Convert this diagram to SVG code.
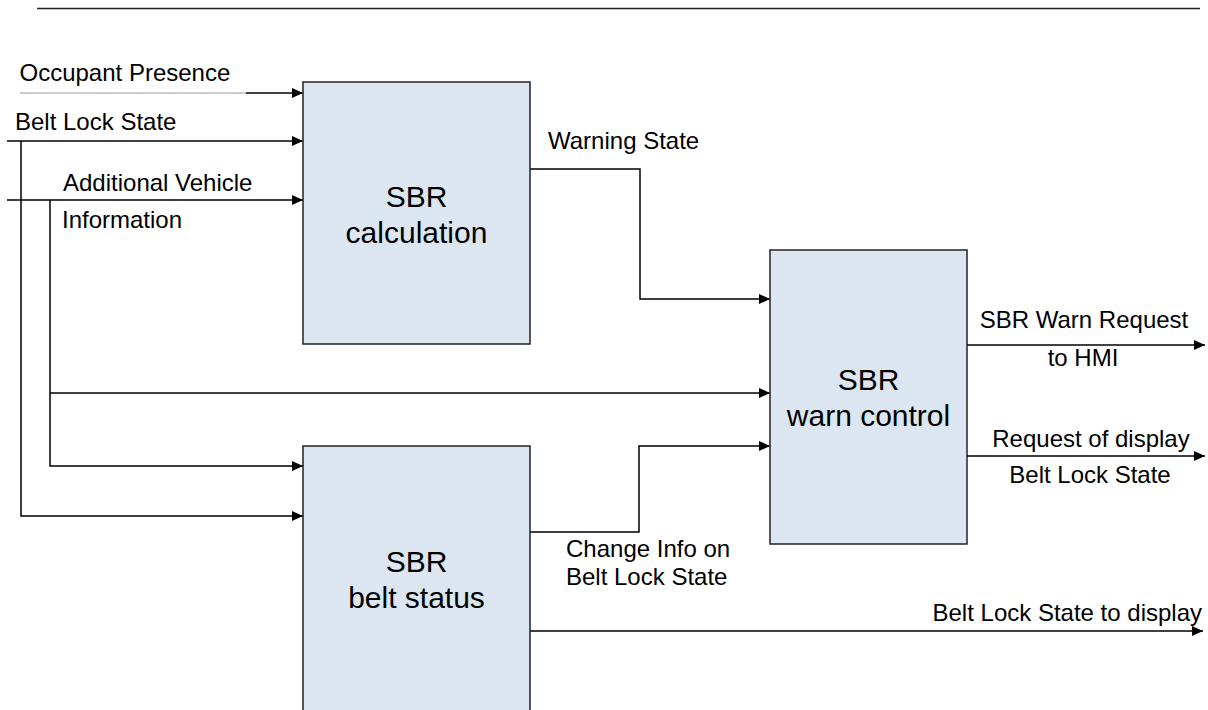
<svg xmlns="http://www.w3.org/2000/svg" width="1208" height="710" viewBox="0 0 1208 710">
<style>
.bg{fill:#ffffff}
.box{fill:#dce6f1;stroke:#222;stroke-width:1.5}
.ln{fill:none;stroke:#000;stroke-width:1.5}
.gr{fill:none;stroke:#999;stroke-width:1.2}
.t{font-family:"Liberation Sans",Arial,sans-serif;font-size:24px;fill:#000}
.big{font-family:"Liberation Sans",Arial,sans-serif;font-size:30px;fill:#000;text-anchor:middle}
</style>
<defs>
<marker id="arr" markerWidth="12" markerHeight="10" refX="11" refY="5" orient="auto" markerUnits="userSpaceOnUse">
<path d="M0,0 L11,5 L0,10 Z" fill="#000"/>
</marker>
</defs>
<rect class="bg" x="0" y="0" width="1208" height="710"/>
<line x1="37" y1="8.5" x2="1200" y2="8.5" stroke="#222" stroke-width="1.5"/>

<g id="connectors">
<line class="gr" x1="20" y1="93" x2="246" y2="93"/>
<line class="ln" x1="246" y1="93" x2="303" y2="93" marker-end="url(#arr)"/>
<line class="ln" x1="7" y1="141" x2="303" y2="141" marker-end="url(#arr)"/>
<line class="ln" x1="7" y1="200" x2="303" y2="200" marker-end="url(#arr)"/>
<polyline class="ln" points="21,141 21,516 303,516" marker-end="url(#arr)"/>
<polyline class="ln" points="50,200 50,466 303,466" marker-end="url(#arr)"/>
<line class="ln" x1="50" y1="393" x2="770" y2="393" marker-end="url(#arr)"/>
<polyline class="ln" points="530,169 640,169 640,299 770,299" marker-end="url(#arr)"/>
<polyline class="ln" points="530,532 639,532 639,446 770,446" marker-end="url(#arr)"/>
<line class="ln" x1="967" y1="345" x2="1205" y2="345" marker-end="url(#arr)"/>
<line class="ln" x1="967" y1="456" x2="1205" y2="456" marker-end="url(#arr)"/>
<line class="ln" x1="530" y1="631" x2="1203" y2="631" marker-end="url(#arr)"/>
</g>

<g id="labels">
<text class="t" x="19.5" y="81">Occupant Presence</text>
<text class="t" x="15" y="130">Belt Lock State</text>
<text class="t" x="63" y="191">Additional Vehicle</text>
<text class="t" x="62" y="228">Information</text>
<text class="t" x="548" y="149">Warning State</text>
<text class="t" x="1084" y="328" text-anchor="middle">SBR Warn Request</text>
<text class="t" x="1083" y="366" text-anchor="middle">to HMI</text>
<text class="t" x="1091" y="447" text-anchor="middle">Request of display</text>
<text class="t" x="1090" y="483" text-anchor="middle">Belt Lock State</text>
<text class="t" x="566" y="557">Change Info on</text>
<text class="t" x="566" y="585">Belt Lock State</text>
<text class="t" x="1202" y="621" text-anchor="end">Belt Lock State to display</text>
</g>

<g id="sbr-calculation">
<rect class="box" x="303" y="82" width="227" height="262"/>
<text class="big" x="416.5" y="207">SBR</text>
<text class="big" x="416.5" y="243">calculation</text>
</g>

<g id="sbr-belt-status">
<rect class="box" x="303" y="446" width="227" height="280"/>
<text class="big" x="416.5" y="572">SBR</text>
<text class="big" x="416.5" y="608">belt status</text>
</g>

<g id="sbr-warn-control">
<rect class="box" x="770" y="250" width="197" height="294"/>
<text class="big" x="868.5" y="390">SBR</text>
<text class="big" x="868.5" y="426">warn control</text>
</g>
</svg>
